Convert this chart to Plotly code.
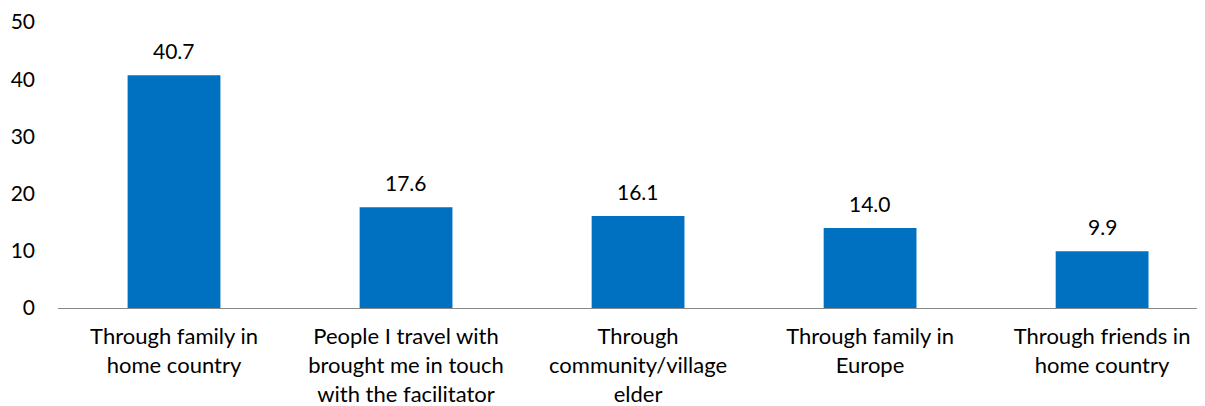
import plotly.graph_objects as go

categories = [
    "Through family in<br>home country",
    "People I travel with<br>brought me in touch<br>with the facilitator",
    "Through<br>community/village<br>elder",
    "Through family in<br>Europe",
    "Through friends in<br>home country",
]
values = [40.7, 17.6, 16.1, 14.0, 9.9]
value_labels = ["40.7", "17.6", "16.1", "14.0", "9.9"]
y_ticks = [0, 10, 20, 30, 40, 50]

FONT = "Lato, Carlito, Calibri, sans-serif"
xpos = list(range(len(categories)))

fig = go.Figure(
    go.Bar(
        x=xpos,
        y=values,
        width=0.4,
        marker=dict(color="#0070C0", line=dict(width=0)),
        cliponaxis=False,
    )
)

for xi, v, lab in zip(xpos, values, value_labels):
    fig.add_annotation(
        x=xi, y=v, text=lab, showarrow=False,
        yanchor="bottom", yshift=10,
        font=dict(family=FONT, size=21, color="#000000"),
    )

fig.update_layout(
    width=1205,
    height=406,
    margin=dict(l=50, r=0, t=14, b=106, autoexpand=False),
    paper_bgcolor="white",
    plot_bgcolor="white",
    showlegend=False,
    font=dict(family=FONT, size=22, color="#000000"),
)
fig.update_xaxes(
    tickmode="array",
    tickvals=xpos,
    ticktext=categories,
    range=[-0.5, 4.478],
    showline=True,
    linecolor="#898989",
    linewidth=1,
    ticks="",
    showgrid=False,
    zeroline=False,
    ticklabelstandoff=9,
    automargin=False,
    tickfont=dict(family=FONT, size=22, color="#000000"),
)
fig.update_yaxes(
    range=[0, 50],
    tickvals=y_ticks,
    showgrid=False,
    zeroline=False,
    showline=False,
    ticks="",
    ticklabelstandoff=22,
    automargin=False,
    tickfont=dict(family=FONT, size=21, color="#000000"),
)

fig.write_html("out.html")
